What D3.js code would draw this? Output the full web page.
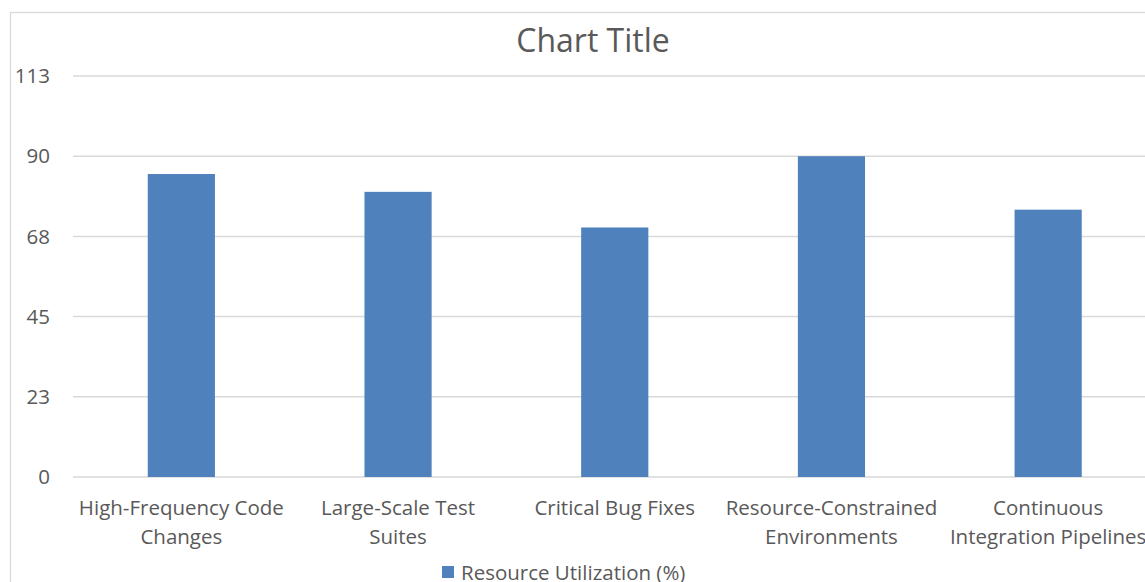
<!DOCTYPE html>
<html><head><meta charset="utf-8">
<script src="https://cdn.jsdelivr.net/npm/d3@7"></script>
<style>
html,body{margin:0;padding:0;background:#fff;overflow:hidden;}
svg{display:block;}
</style></head>
<body>
<script>
const categories = [
  ["High-Frequency Code", "Changes"],
  ["Large-Scale Test", "Suites"],
  ["Critical Bug Fixes"],
  ["Resource-Constrained", "Environments"],
  ["Continuous", "Integration Pipelines"]
];
const values = [85, 80, 70, 90, 75];
const tickValues = [0, 22.5, 45, 67.5, 90, 112.5];
const tickLabels = ["0", "23", "45", "68", "90", "113"];
const seriesName = "Resource Utilization (%)";
const title = "Chart Title";

(function () {
const W = 1145, H = 582;
const font = "'Open Sans', sans-serif";
const textColor = "#595959";
const fs = "20.5px";

const svg = d3.select("body").append("svg").attr("width", W).attr("height", H);

svg.append("rect").attr("x", 10.5).attr("y", 12.5).attr("width", W + 20).attr("height", H + 20)
  .attr("fill", "#fff").attr("stroke", "#d9d9d9").attr("stroke-width", 1.3);

const pLeft = 73, pRight = 1156.5, pTop = 76, pBottom = 477;
const x = d3.scaleBand().domain(d3.range(values.length)).range([pLeft, pRight]).paddingInner(0.69).paddingOuter(0.345);
const y = d3.scaleLinear().domain([0, 112.5]).range([pBottom, pTop]);

svg.append("g").selectAll("line").data(tickValues).join("line")
  .attr("x1", pLeft).attr("x2", pRight)
  .attr("y1", d => y(d)).attr("y2", d => y(d))
  .attr("stroke", "#d9d9d9").attr("stroke-width", 1.5);

svg.append("g").selectAll("text").data(tickValues).join("text")
  .attr("x", 50).attr("y", d => y(d)).attr("dy", "0.35em")
  .attr("text-anchor", "end").attr("fill", textColor)
  .style("font-family", font).style("font-size", fs)
  .text((d, i) => tickLabels[i]);

svg.append("g").selectAll("rect").data(values).join("rect")
  .attr("x", (d, i) => x(i)).attr("width", x.bandwidth())
  .attr("y", d => y(d)).attr("height", d => y(0) - y(d))
  .attr("fill", "#4f81bd");

const xl = svg.append("g").selectAll("text").data(categories).join("text")
  .attr("text-anchor", "middle").attr("fill", textColor)
  .style("font-family", font).style("font-size", fs);
xl.each(function(lines, i) {
  const cx = x(i) + x.bandwidth() / 2;
  d3.select(this).selectAll("tspan").data(lines).join("tspan")
    .attr("x", cx).attr("y", (d, j) => 515 + j * 29).text(d => d);
});

svg.append("text").attr("x", 593).attr("y", 52).attr("text-anchor", "middle")
  .attr("fill", textColor).style("font-family", font).style("font-size", "32px").text(title);

svg.append("rect").attr("x", 442).attr("y", 566).attr("width", 12).attr("height", 12).attr("fill", "#4f81bd");
svg.append("text").attr("x", 461).attr("y", 580).attr("fill", textColor)
  .style("font-family", font).style("font-size", fs).text(seriesName);
})();
</script>
</body></html>
